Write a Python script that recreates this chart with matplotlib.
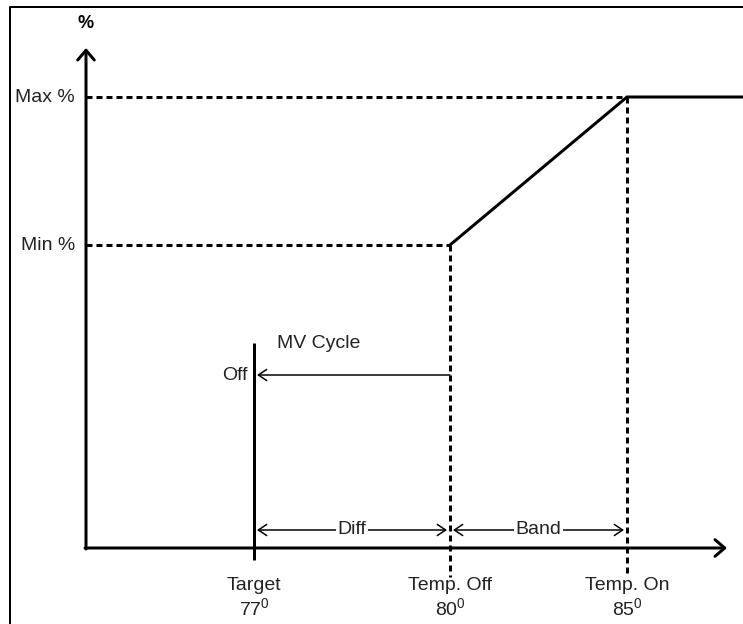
import matplotlib
matplotlib.use("Agg")
import matplotlib.pyplot as plt

plt.rcParams['font.family'] = ['Liberation Sans', 'DejaVu Sans']
plt.rcParams['lines.scale_dashes'] = False
plt.rcParams['mathtext.fontset'] = 'custom'
plt.rcParams['mathtext.rm'] = 'Liberation Sans'

# Schematic data
temp_labels = ["Target", "Temp. Off", "Temp. On"]
temp_values = ["77", "80", "85"]
temp_pos = [254, 450, 627]          # schematic x positions
pct_labels = ["Max %", "Min %"]
pct_pos = [97, 245]                 # schematic y positions
band_labels = ["Diff", "Band"]

W, H = 743, 624
fig = plt.figure(figsize=(W / 100, H / 100), dpi=100)
ax = fig.add_axes([0, 0, 1, 1])
ax.set_xlim(0, W)
ax.set_ylim(H, 0)
ax.axis('off')

px = 0.72  # points per pixel
x0, y0 = 86, 548  # origin

# frame
ax.plot([10, 10, 743], [624, 7, 7], color='black', lw=2 * px, solid_capstyle='butt')

# axes arrows
arrow_kw = dict(arrowstyle='->,head_length=0.7,head_width=0.6', color='black', lw=3 * px,
                shrinkA=0, shrinkB=0)
ax.annotate('', xy=(x0, 48), xytext=(x0, y0 + 1), arrowprops=arrow_kw)
ax.annotate('', xy=(727, y0), xytext=(x0 - 1, y0), arrowprops=arrow_kw)
ax.text(x0, 23, '%', ha='center', va='center', fontsize=13, fontweight='bold')

dash = (0, (6 * px, 4 * px))
ymax, ymin = pct_pos
xt, xoff, xon = temp_pos

# horizontal dashed guides
ax.plot([x0, xon], [ymax, ymax], color='black', lw=3 * px, linestyle=dash)
ax.plot([x0, xoff], [ymin, ymin], color='black', lw=3 * px, linestyle=dash)
# vertical dashed guides
ax.plot([xoff, xoff], [ymin, 577], color='black', lw=3 * px, linestyle=dash)
ax.plot([xon, xon], [ymax, 577], color='black', lw=3 * px, linestyle=dash)

# response curve
ax.plot([xoff, xon, 743], [ymin, ymax, ymax], color='black', lw=3 * px,
        solid_capstyle='butt', solid_joinstyle='miter')

# percent labels
for lab, yy in zip(pct_labels, pct_pos):
    ax.text(x0 - 11, yy, lab, ha='right', va='center', fontsize=14, color='#222222')

# MV cycle line
ax.plot([xt, xt], [343, 560], color='black', lw=3 * px, solid_capstyle='butt')
ax.text(277, 343, 'MV Cycle', ha='left', va='center', fontsize=14, color='#222222')
ax.text(248, 375, 'Off', ha='right', va='center', fontsize=14, color='#222222')
thin_kw = dict(arrowstyle='->,head_length=0.6,head_width=0.4', color='black', lw=1.5 * px,
               shrinkA=0, shrinkB=0)
ax.annotate('', xy=(xt + 3, 375), xytext=(xoff, 375), arrowprops=thin_kw)

# Diff / Band dimension arrows
ydim = 530
dbl_kw = dict(arrowstyle='<->,head_length=0.6,head_width=0.4', color='black', lw=1.5 * px,
              shrinkA=0, shrinkB=0)
spans = [(xt + 3, xoff - 3), (xoff + 3, xon - 3)]
for lab, (a, b) in zip(band_labels, spans):
    ax.annotate('', xy=(b, ydim), xytext=(a, ydim), arrowprops=dbl_kw)
    ax.text((a + b) / 2, ydim, lab, ha='center', va='center', fontsize=14, color='#222222',
            bbox=dict(facecolor='white', edgecolor='none', pad=1))

# temperature labels
for lab, val, xx in zip(temp_labels, temp_values, temp_pos):
    ax.text(xx, 585, lab, ha='center', va='center', fontsize=14, color='#222222')
    ax.text(xx, 609, val + r'$^{\mathregular{0}}$', ha='center', va='center', fontsize=14,
            color='#222222')

fig.savefig('out.png', dpi=100)
